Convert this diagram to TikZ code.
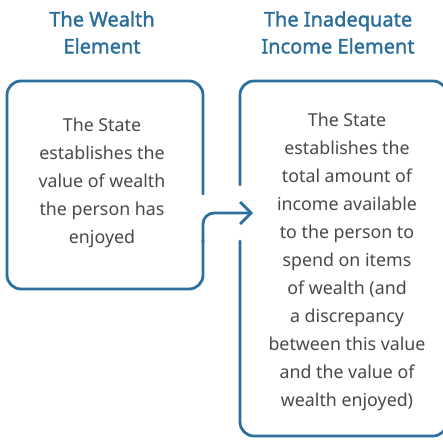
\documentclass[tikz,border=0pt]{standalone}
\usepackage{fontspec}
\setmainfont{Noto Sans}
\newfontfamily\titlefont{Noto Sans}[FakeBold=1.6]
\usetikzlibrary{arrows.meta}
\definecolor{boxblue}{RGB}{42,111,158}
\definecolor{titleblue}{RGB}{44,110,155}
\definecolor{bodygray}{RGB}{72,72,72}
\tikzset{
  outline/.style={draw=boxblue, line width=2.8pt, line cap=round, line join=round},
  titletext/.style={anchor=north, inner sep=0pt, align=center, text=titleblue,
    font=\titlefont\fontsize{20}{27}\selectfont},
  bodytext/.style={anchor=north, inner sep=0pt, align=center, text=bodygray,
    font=\fontsize{17.8}{28}\selectfont},
}
\begin{document}
\begin{tikzpicture}[x=1pt, y=-1pt]
\useasboundingbox (0,0) rectangle (443,439);
\clip (0,0) rectangle (443,439);
% titles
\node[titletext] (t1) at (102,11) {The Wealth\\Element};
\node[titletext] (t2) at (338,11) {The Inadequate\\Income Element};
% left box with outgoing arrow
\coordinate (lgap) at (203,194);
\coordinate (tip) at (253,213);
\draw[outline, rounded corners=14pt] (lgap) -- (203,81) -- (7,81) -- (7,289) -- (203,289) -- (203,240);
\draw[outline, rounded corners=11pt, -{Straight Barb[length=11pt, width=22pt, line width=2.8pt]}] (203,242) -- (203,213) -- (tip);
% right box
\draw[outline, rounded corners=14pt] (240,185) -- (240,81) -- (447,81) -- (447,436) -- (240,436) -- (240,241);
% texts
\node[bodytext] (lt) at (102,117.5) {The State\\establishes the\\value of wealth\\the person has\\enjoyed};
\node[bodytext] (rt) at (347,113) {The State\\establishes the\\total amount of\\income available\\to the person to\\spend on items\\of wealth (and\\a discrepancy\\between this value\\and the value of\\wealth enjoyed)};
\end{tikzpicture}
\end{document}
